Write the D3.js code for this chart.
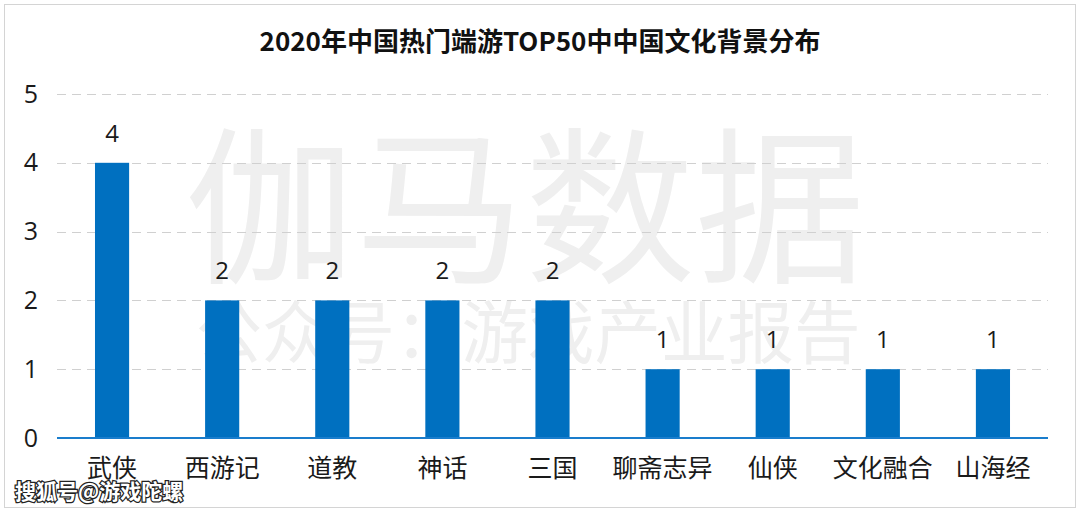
<!DOCTYPE html>
<html>
<head>
<meta charset="utf-8">
<script src="https://cdn.jsdelivr.net/npm/d3@7"></script>
<style>
  body { margin: 0; background: #fff; }
  svg { display: block; font-family: "Noto Sans CJK SC", "Noto Sans", sans-serif; }
</style>
</head>
<body>
<div id="chart"></div>
<script>
const categories = ["武侠", "西游记", "道教", "神话", "三国", "聊斋志异", "仙侠", "文化融合", "山海经"];
const counts = [4, 2, 2, 2, 2, 1, 1, 1, 1];
const yTicks = [0, 1, 2, 3, 4, 5];

const W = 1080, H = 512;
const margin = { top: 94, right: 32, bottom: 74, left: 57 };

const svg = d3.select("#chart").append("svg")
  .attr("width", W)
  .attr("height", H);

// outer frame
svg.append("rect")
  .attr("x", 4.5).attr("y", 4.5)
  .attr("width", W - 9).attr("height", H - 9)
  .attr("fill", "#fff")
  .attr("stroke", "#d4d4d4");

const x = d3.scaleBand()
  .domain(categories)
  .range([margin.left, W - margin.right])
  .paddingInner(0.69)
  .paddingOuter(0.345);

const y = d3.scaleLinear()
  .domain([0, 5])
  .range([H - margin.bottom, margin.top]);

// watermark
const wm = svg.append("g").attr("fill", "#efefef");
wm.append("text")
  .attr("x", 525).attr("y", 270)
  .attr("text-anchor", "middle")
  .attr("font-size", 168)
  .attr("textLength", 680)
  .attr("lengthAdjust", "spacingAndGlyphs")
  .text("伽马数据");
wm.append("text")
  .attr("x", 528).attr("y", 358)
  .attr("text-anchor", "middle")
  .attr("font-size", 68)
  .attr("textLength", 665)
  .attr("lengthAdjust", "spacingAndGlyphs")
  .text("公众号：游戏产业报告");

// grid
svg.append("g")
  .selectAll("line")
  .data(yTicks.filter(d => d > 0))
  .join("line")
  .attr("x1", margin.left)
  .attr("x2", W - margin.right)
  .attr("y1", d => Math.round(y(d)) + 0.5)
  .attr("y2", d => Math.round(y(d)) + 0.5)
  .attr("stroke", "#d0d0d0")
  .attr("stroke-width", 1.2)
  .attr("stroke-dasharray", "9,6");

// y axis labels
const yAxis = svg.append("g")
  .attr("transform", `translate(${margin.left - 16},0)`)
  .call(d3.axisLeft(y).tickValues(yTicks).tickFormat(d3.format("d")).tickSize(0));
yAxis.select(".domain").remove();
yAxis.selectAll("text")
  .attr("font-size", 25)
  .attr("fill", "#1a1a1a")
  .attr("font-family", "'Open Sans', 'Noto Sans', sans-serif");

// bars
svg.append("g")
  .selectAll("rect")
  .data(counts)
  .join("rect")
  .attr("x", (d, i) => x(categories[i]))
  .attr("y", d => y(d))
  .attr("width", x.bandwidth())
  .attr("height", d => y(0) - y(d))
  .attr("fill", "#0070c0");

// baseline
svg.append("line")
  .attr("x1", margin.left)
  .attr("x2", W - margin.right)
  .attr("y1", y(0))
  .attr("y2", y(0))
  .attr("stroke", "#1a7dcc")
  .attr("stroke-width", 2);

// value labels
svg.append("g")
  .selectAll("text")
  .data(counts)
  .join("text")
  .attr("x", (d, i) => x(categories[i]) + x.bandwidth() / 2)
  .attr("y", d => y(d) - 21)
  .attr("text-anchor", "middle")
  .attr("font-size", 24)
  .attr("font-family", "'Open Sans', 'Noto Sans', sans-serif")
  .attr("fill", "#1a1a1a")
  .text(d => d);

// category labels
const xAxis = svg.append("g")
  .attr("transform", `translate(0,${y(0)})`)
  .call(d3.axisBottom(x).tickSize(0).tickPadding(21));
xAxis.select(".domain").remove();
xAxis.selectAll("text")
  .attr("font-size", 25)
  .attr("fill", "#1a1a1a")
  .attr("font-family", "'Noto Sans CJK SC', sans-serif");

// title
svg.append("text")
  .attr("x", 540)
  .attr("y", 51)
  .attr("text-anchor", "middle")
  .attr("font-size", 26)
  .attr("font-weight", "bold")
  .attr("fill", "#111")
  .text("2020年中国热门端游TOP50中中国文化背景分布");

// source stamp
svg.append("text")
  .attr("x", 15)
  .attr("y", 499)
  .attr("font-size", 21)
  .attr("font-weight", "bold")
  .attr("fill", "#fff")
  .attr("stroke", "#222")
  .attr("stroke-width", 2.5)
  .attr("paint-order", "stroke")
  .text("搜狐号@游戏陀螺");
</script>
</body>
</html>
